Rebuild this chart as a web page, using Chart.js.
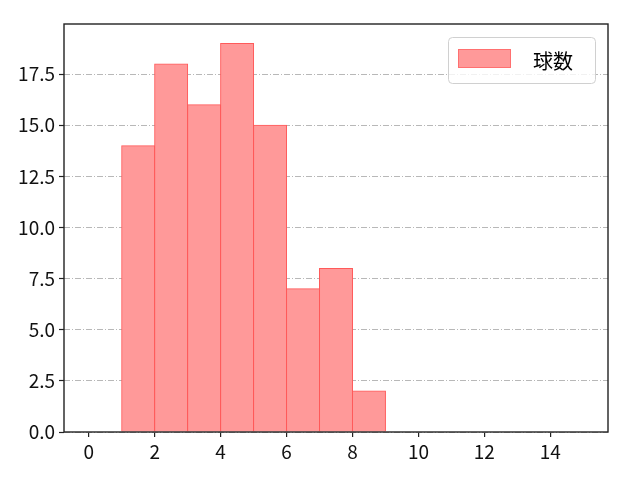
<!DOCTYPE html>
<html>
<head>
<meta charset="utf-8">
<script src="https://cdn.jsdelivr.net/npm/chart.js@4/dist/chart.umd.min.js"></script>
<style>
  html, body { margin: 0; padding: 0; background: #fff; }
  #wrap { width: 640px; height: 480px; }
</style>
</head>
<body>
<div id="wrap"><canvas id="chart" width="640" height="480"></canvas></div>
<script>
// histogram bins (left edges), counts, tick labels
const binStarts = [1, 2, 3, 4, 5, 6, 7, 8];
const counts = [14, 18, 16, 19, 15, 7, 8, 2];
const xTicks = [0, 2, 4, 6, 8, 10, 12, 14];
const yTicks = [0, 2.5, 5, 7.5, 10, 12.5, 15, 17.5];
const seriesLabel = '球数';

const FONT = '"Noto Sans CJK JP", "DejaVu Sans", sans-serif';

const points = binStarts.map((b, i) => ({ x: b + 0.5, y: counts[i] }));

// black frame around plot area
const framePlugin = {
  id: 'frame',
  afterDraw(chart) {
    const { ctx, chartArea: a } = chart;
    ctx.save();
    ctx.strokeStyle = '#222';
    ctx.lineWidth = 1.4;
    ctx.strokeRect(a.left, a.top, a.right - a.left, a.bottom - a.top);
    ctx.restore();
  }
};

// matplotlib-style legend box in the top right corner
const legendPlugin = {
  id: 'boxLegend',
  afterDraw(chart) {
    const { ctx, chartArea: a } = chart;
    const ds = chart.data.datasets[0];
    const w = 147, h = 46;
    const x = a.right - 13 - w, y = a.top + 13;
    ctx.save();
    ctx.fillStyle = 'rgba(255,255,255,0.8)';
    ctx.strokeStyle = '#d0d0d0';
    ctx.lineWidth = 1;
    ctx.beginPath();
    ctx.roundRect(x + 0.5, y + 0.5, w, h, 4);
    ctx.fill();
    ctx.stroke();
    ctx.fillStyle = ds.backgroundColor;
    ctx.fillRect(x + 10, y + 12, 53, 19);
    ctx.strokeStyle = '#ff7070';
    ctx.strokeRect(x + 10.5, y + 12.5, 52, 18);
    ctx.fillStyle = '#000';
    ctx.font = '20px ' + FONT;
    ctx.textBaseline = 'middle';
    ctx.fillText(ds.label, x + 85, y + h / 2 + 1);
    ctx.restore();
  }
};

new Chart(document.getElementById('chart'), {
  type: 'bar',
  data: {
    datasets: [{
      label: seriesLabel,
      data: points,
      backgroundColor: '#ff9999',
      borderColor: '#ff5a5a',
      borderWidth: 1,
      borderSkipped: 'start',
      inflateAmount: 0.5,
      barPercentage: 1,
      categoryPercentage: 1
    }]
  },
  options: {
    responsive: false,
    animation: false,
    layout: { padding: { top: 24, right: 32, left: 0, bottom: 0 } },
    plugins: { legend: { display: false }, tooltip: { enabled: false } },
    scales: {
      x: {
        type: 'linear',
        offset: false,
        min: -0.75,
        max: 15.75,
        afterBuildTicks(scale) { scale.ticks = xTicks.map(v => ({ value: v })); },
        afterFit(scale) { scale.height = 48; },
        grid: { offset: false, drawOnChartArea: false, drawTicks: true, tickLength: 5, tickColor: '#222', lineWidth: 1.2 },
        border: { display: false },
        ticks: {
          color: '#111',
          font: { family: FONT, size: 19 },
          padding: 3,
          maxRotation: 0,
          autoSkip: false
        }
      },
      y: {
        min: 0,
        max: 19.95,
        afterBuildTicks(scale) { scale.ticks = yTicks.map(v => ({ value: v })); },
        afterFit(scale) { scale.width = 64; },
        grid: {
          color: '#b0b0b0',
          lineWidth: 0.9,
          tickLength: 5,
          tickColor: '#222',
          tickWidth: 1.2,
          tickBorderDash: []
        },
        border: { display: false, dash: [6, 2, 1, 2] },
        ticks: {
          color: '#111',
          font: { family: FONT, size: 19 },
          padding: 4,
          autoSkip: false,
          callback: v => v.toFixed(1)
        }
      }
    }
  },
  plugins: [framePlugin, legendPlugin]
});
</script>
</body>
</html>
